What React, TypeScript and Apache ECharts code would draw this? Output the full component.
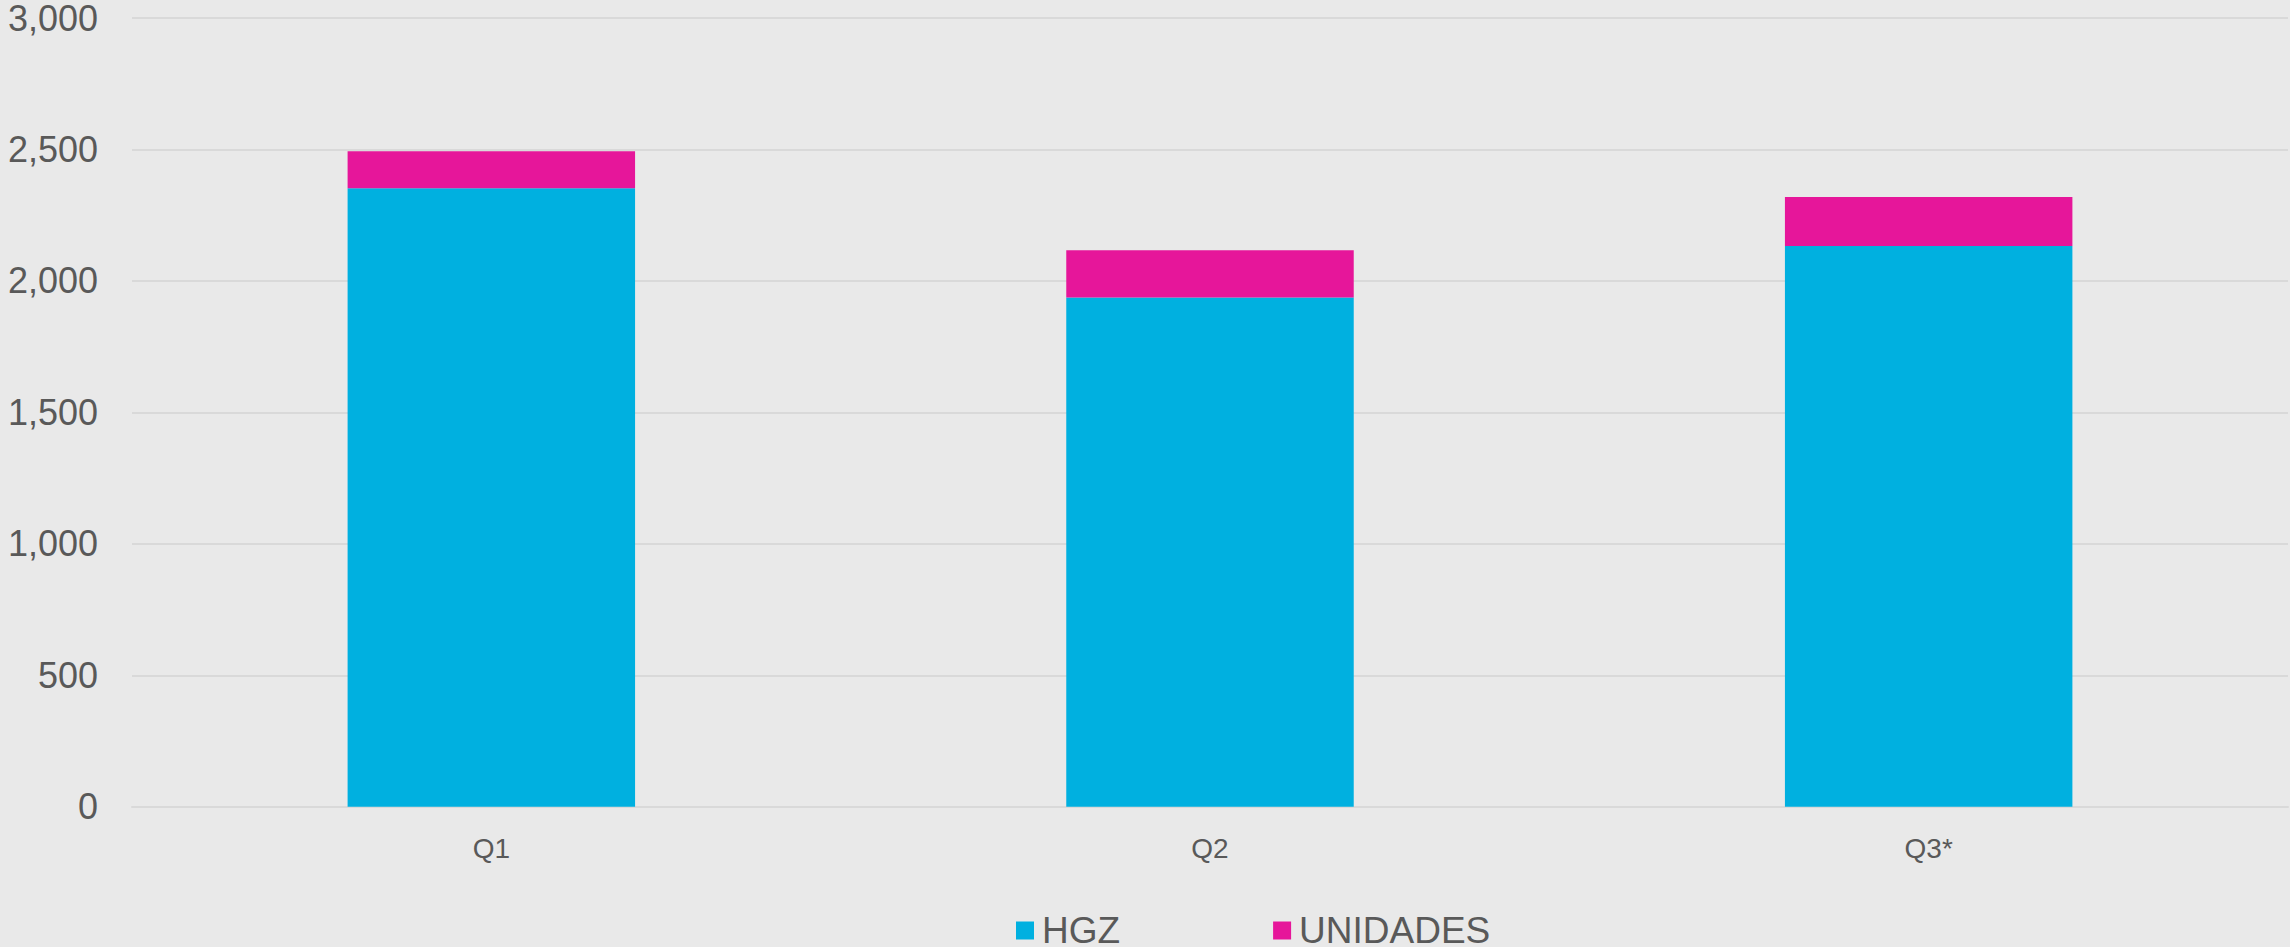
import React, { useEffect, useRef } from "react";
import * as echarts from "echarts";

const categories = ["Q1", "Q2", "Q3*"];
const hgz = [2352, 1937, 2133];
const unidades = [141, 180, 186];
const seriesNames = ["HGZ", "UNIDADES"];
const yTicks = { min: 0, max: 3000, interval: 500 };

const FONT = "'Liberation Sans', Arial, sans-serif";
const TEXT = "#595959";

export default function App() {
  const ref = useRef<HTMLDivElement>(null);
  useEffect(() => {
    document.body.style.margin = "0";
    const chart = echarts.init(ref.current!, null, { renderer: "svg" });
    chart.setOption({
      animation: false,
      backgroundColor: "#E9E9E9",
      textStyle: { fontFamily: FONT },
      grid: { left: 132, right: 2, top: 16.7, bottom: 140.3, containLabel: false },
      legend: {
        left: 1016,
        top: 912,
        padding: 0,
        itemWidth: 18,
        itemHeight: 18,
        itemGap: 153,
        icon: "rect",
        textStyle: {
          fontSize: 37,
          lineHeight: 26,
          color: TEXT,
          fontFamily: FONT,
          padding: [0, 0, 0, 3],
        },
        data: seriesNames,
      },
      xAxis: {
        type: "category",
        data: categories,
        axisTick: { show: false },
        axisLine: { show: true, lineStyle: { color: "#D9D9D9", width: 2 } },
        axisLabel: { fontSize: 28, color: TEXT, margin: 28, fontFamily: FONT },
      },
      yAxis: {
        type: "value",
        min: yTicks.min,
        max: yTicks.max,
        interval: yTicks.interval,
        axisLine: { show: false },
        axisTick: { show: false },
        splitLine: { lineStyle: { color: "#D9D9D9", width: 2 } },
        axisLabel: {
          fontSize: 36,
          lineHeight: 24,
          color: TEXT,
          margin: 34,
          fontFamily: FONT,
          formatter: (v: number) => v.toLocaleString("en-US"),
        },
      },
      series: [
        {
          name: seriesNames[0],
          type: "bar",
          stack: "total",
          data: hgz,
          barWidth: "40%",
          itemStyle: { color: "#00B0E0" },
        },
        {
          name: seriesNames[1],
          type: "bar",
          stack: "total",
          data: unidades,
          barWidth: "40%",
          itemStyle: { color: "#E6169A" },
        },
      ],
    });
    return () => chart.dispose();
  }, []);
  return <div ref={ref} style={{ width: 2290, height: 947 }} />;
}
